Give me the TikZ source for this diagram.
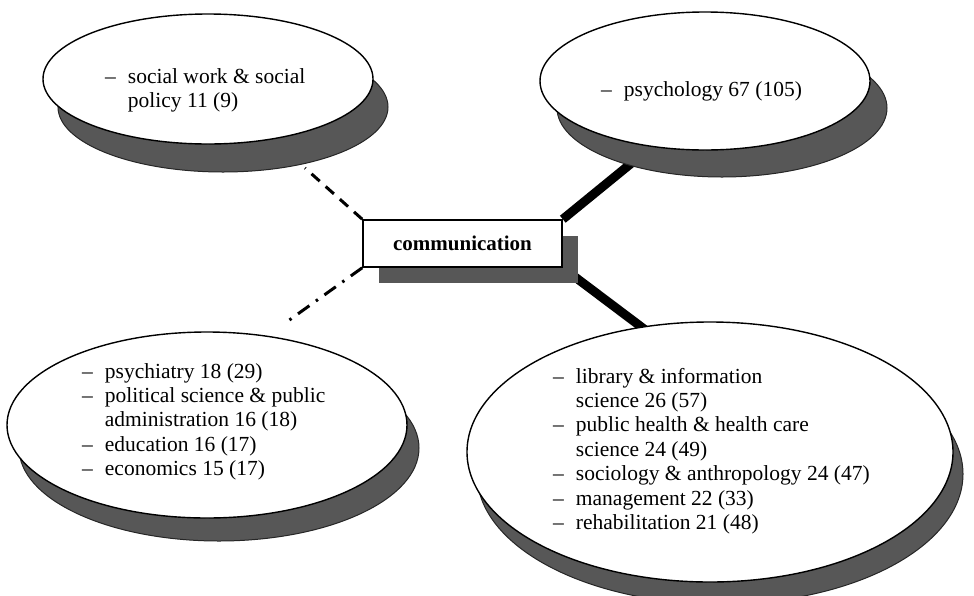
\documentclass[tikz,border=0pt]{standalone}
\usepackage{fontspec}
\setmainfont{Liberation Serif}
\usetikzlibrary{shapes.geometric,backgrounds}
\begin{document}
\begin{tikzpicture}[x=1pt,y=-1pt,
  oval/.style={ellipse,draw=black,line width=1.4pt,fill=white,inner sep=0pt},
  ovalshadow/.style={ellipse,fill=black!66,draw=black!85,line width=1pt,inner sep=0pt},
  boxshadow/.style={rectangle,fill=black!66,draw=none,inner sep=0pt,minimum width=199pt,minimum height=47pt},
  mainbox/.style={rectangle,draw=black,line width=1.6pt,fill=white,inner sep=0pt,minimum width=199pt,minimum height=47pt,font=\fontsize{21}{24}\selectfont\bfseries},
  txt/.style={anchor=base west,inner sep=0pt,font=\fontsize{21.5}{24.4}\selectfont},
  weak/.style={line width=3pt,dash pattern=on 11pt off 8pt},
  medium/.style={line width=3pt,dash pattern=on 14pt off 8pt on 2.5pt off 8pt},
  strong/.style={line width=9pt}
]
\useasboundingbox (0,0) rectangle (974,595);
% shadows
\node[ovalshadow,minimum width=330pt,minimum height=130pt] (s1) at (223,107) {};
\node[ovalshadow,minimum width=330pt,minimum height=138pt] (s2) at (722,108) {};
\node[ovalshadow,minimum width=400pt,minimum height=186pt] (s3) at (219,448) {};
\node[ovalshadow,minimum width=486pt,minimum height=260pt] (s4) at (720,474) {};
\node[boxshadow] (bs) at (478,259) {};
% ellipses
\node[oval,minimum width=330pt,minimum height=130pt] (e1) at (208,79) {};
\node[oval,minimum width=330pt,minimum height=138pt] (e2) at (705,81) {};
\node[oval,minimum width=400pt,minimum height=186pt] (e3) at (207,425) {};
\node[oval,minimum width=486pt,minimum height=260pt] (e4) at (710,452) {};
% central box
\node[mainbox] (c) at (462.5,243.5) {communication};
% connector ends
\coordinate (w1) at (305,168);
\coordinate (m1) at (288,321);
\coordinate (t2) at (650,148);
\coordinate (t4) at (660,341);
\begin{scope}[on background layer]
\draw[weak] (c.north west) -- (w1);
\draw[medium] (c.south west) -- (m1);
\draw[strong] (c.north east) -- (t2);
\draw[strong] (c.south east) -- (t4);
\end{scope}
% texts
\node[txt] (l1) at (105,83) {\begin{tabular}[t]{@{}l@{\hspace{12pt}}l@{}}
-- & social work \& social\\
 & policy 11 (9)
\end{tabular}};
\node[txt] (l2) at (601,96) {\begin{tabular}[t]{@{}l@{\hspace{12pt}}l@{}}
-- & psychology 67 (105)
\end{tabular}};
\node[txt] (l3) at (82,378) {\begin{tabular}[t]{@{}l@{\hspace{12pt}}l@{}}
-- & psychiatry 18 (29)\\
-- & political science \& public\\
 & administration 16 (18)\\
-- & education 16 (17)\\
-- & economics 15 (17)
\end{tabular}};
\node[txt] (l4) at (553,383) {\begin{tabular}[t]{@{}l@{\hspace{12pt}}l@{}}
-- & library \& information\\
 & science 26 (57)\\
-- & public health \& health care\\
 & science 24 (49)\\
-- & sociology \& anthropology 24 (47)\\
-- & management 22 (33)\\
-- & rehabilitation 21 (48)
\end{tabular}};
\end{tikzpicture}
\end{document}
